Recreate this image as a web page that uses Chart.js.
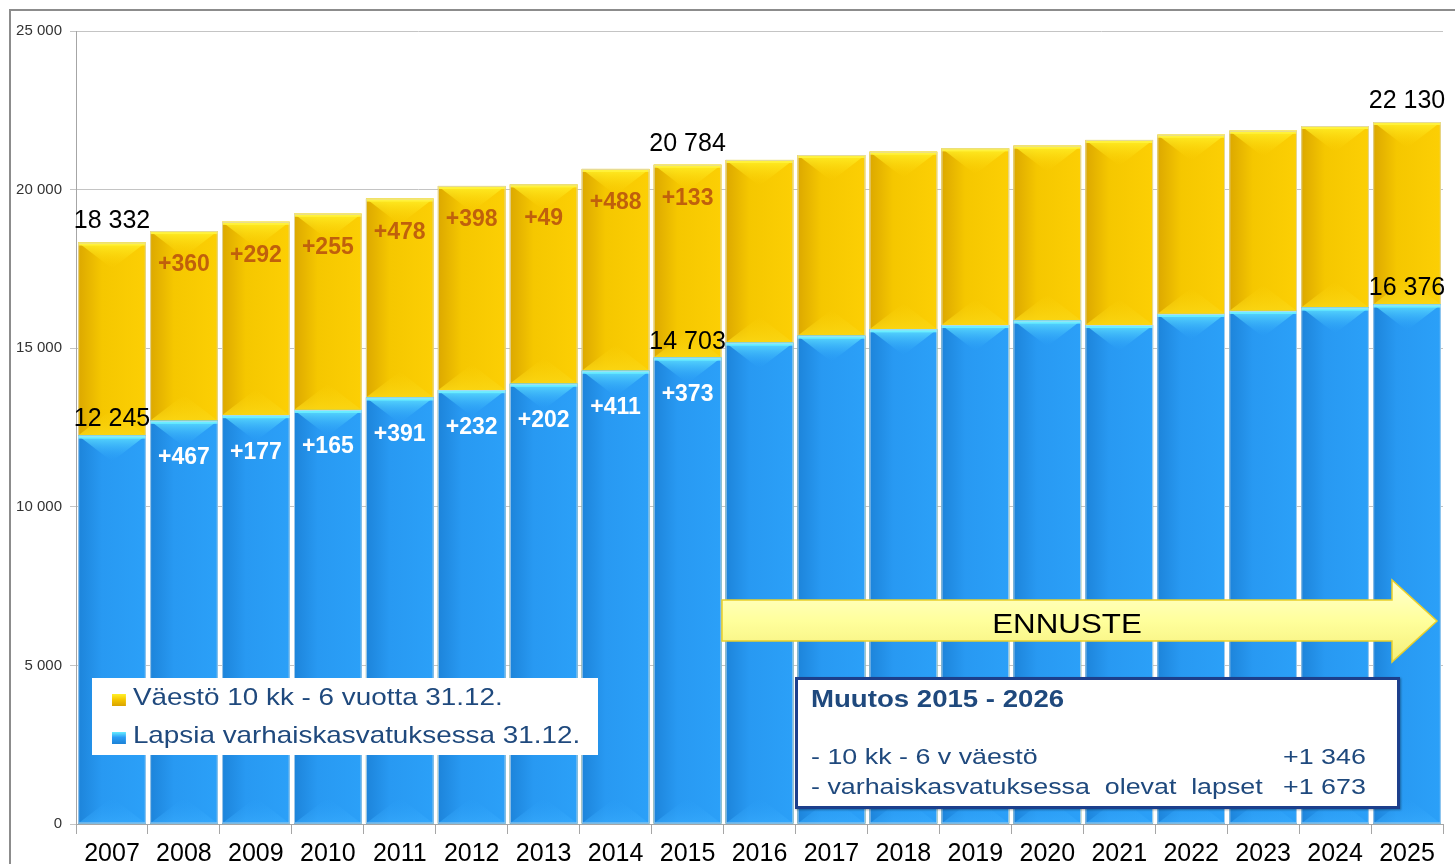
<!DOCTYPE html>
<html>
<head>
<meta charset="utf-8">
<script src="https://cdn.jsdelivr.net/npm/chart.js@4.4.1/dist/chart.umd.min.js"></script>
<style>
    html, body { margin: 0; padding: 0; background: #fff; }
    #wrap { position: relative; width: 1455px; height: 864px; overflow: hidden; font-family: "Liberation Sans", Arial, sans-serif; }
    #frame { position: absolute; left: 9px; top: 9px; width: 1500px; height: 900px; border-left: 2px solid #8c8c8c; border-top: 2px solid #8c8c8c; }
    #chart { position: absolute; left: 0; top: 0; }
    #legend { position: absolute; left: 92px; top: 678px; width: 506px; height: 77px; background: #fff; }
    .leg-item { position: absolute; left: 20px; height: 30px; line-height: 30px; font-size: 24px; color: #1F497D; white-space: nowrap; transform: scaleX(1.16); transform-origin: left center; }
    .leg-icon { display: inline-block; width: 12px; height: 12px; margin-right: 6px; vertical-align: -1px; }
    #arrow { position: absolute; left: 0; top: 0; }
    #muutos { position: absolute; left: 795px; top: 677px; width: 605px; height: 132px; box-sizing: border-box; border: 3px solid #1C3F8C; background: #fff; box-shadow: 1px 1px 2px rgba(0,0,0,0.35); color: #1F497D; }
    #muutos div { position: absolute; white-space: nowrap; line-height: 26px; }
    .m-title { left: 13px; top: 6px; font-size: 23px; font-weight: bold; transform: scaleX(1.2); transform-origin: left center; }
    .m-row { font-size: 22px; transform: scaleX(1.22); transform-origin: left center; }
    .m-num { font-size: 22px; transform: scaleX(1.22); transform-origin: right center; }
</style>
</head>
<body>
<div id="wrap">
    <div id="frame"></div>
    <canvas id="chart" width="1455" height="864"></canvas>
    <svg id="arrow" width="1455" height="864">
        <defs>
            <linearGradient id="arrowFill" x1="0" y1="0" x2="0" y2="1">
                <stop offset="0" stop-color="#FFFFD0"/>
                <stop offset="0.5" stop-color="#FFFF9C"/>
                <stop offset="1" stop-color="#F4EE78"/>
            </linearGradient>
        </defs>
        <polygon points="722,600 1392,600 1392,580 1437,621 1392,662 1392,641 722,641"
                 fill="url(#arrowFill)" stroke="#E9CF2A" stroke-width="1.5"/>
        <text transform="translate(1067,633) scale(1.16,1)" text-anchor="middle"
              font-family="Liberation Sans, Arial, sans-serif" font-size="27" fill="#000">ENNUSTE</text>
    </svg>
    <div id="legend">
        <div class="leg-item" style="top: 4px;"><span class="leg-icon" style="background: linear-gradient(180deg, #FFF02A 0%, #F6C800 45%, #D9A400 100%);"></span>Väestö 10 kk - 6 vuotta 31.12.</div>
        <div class="leg-item" style="top: 42px;"><span class="leg-icon" style="background: linear-gradient(180deg, #66ECFF 0%, #2A9DF5 45%, #1C82D6 100%);"></span>Lapsia varhaiskasvatuksessa 31.12.</div>
    </div>
    <div id="muutos">
        <div class="m-title">Muutos 2015 - 2026</div>
        <div class="m-row" style="left: 13px; top: 64px;">- 10 kk - 6 v väestö</div>
        <div class="m-num" style="right: 31px; top: 64px;">+1 346</div>
        <div class="m-row" style="left: 13px; top: 94px;">- varhaiskasvatuksessa<span style="word-spacing: 6px;"> olevat lapset</span></div>
        <div class="m-num" style="right: 31px; top: 94px;">+1 673</div>
    </div>
</div>
<script>
const years = ['2007', '2008', '2009', '2010', '2011', '2012', '2013', '2014', '2015', '2016',
               '2017', '2018', '2019', '2020', '2021', '2022', '2023', '2024', '2025'];

// Väestö 10 kk - 6 vuotta 31.12.
const population = [18332, 18692, 18984, 19239, 19717, 20115, 20164, 20652, 20784, 20935,
                    21090, 21195, 21300, 21385, 21565, 21730, 21855, 22005, 22130];

// Lapsia varhaiskasvatuksessa 31.12.
const earlyEducation = [12245, 12712, 12889, 13054, 13445, 13677, 13879, 14290, 14703, 15175,
                        15395, 15595, 15730, 15870, 15730, 16080, 16175, 16280, 16376];

// yearly changes printed inside the bars
const populationChange = [null, 360, 292, 255, 478, 398, 49, 488, 133, null,
                          null, null, null, null, null, null, null, null, null];
const educationChange = [null, 467, 177, 165, 391, 232, 202, 411, 373, null,
                         null, null, null, null, null, null, null, null, null];

// years that get the value itself above the bar
const valueLabelYears = ['2007', '2015', '2025'];

const yMax = 25000;
const yStep = 5000;

function fmt(n) {
    return String(n).replace(/\B(?=(\d{3})+(?!\d))/g, ' ');
}

// 3D-ish bevel look for the bars (drawn over the library's own bar elements)
const barLook = {
    id: 'barLook',
    afterDatasetDraw(chart, args) {
        const ctx = chart.ctx;
        const isBlue = args.index === 0;
        const blueMeta = chart.getDatasetMeta(0);
        ctx.save();
        args.meta.data.forEach((bar, i) => {
            const w = bar.width;
            const left = bar.x - w / 2;
            const top = bar.y;
            const bottom = bar.base;
            const h = bottom - top;
            const side = ctx.createLinearGradient(left, 0, left + w, 0);
            if (isBlue) {
                side.addColorStop(0, '#1D84DA');
                side.addColorStop(0.35, '#2899F2');
                side.addColorStop(1, '#2BA0F8');
            } else {
                side.addColorStop(0, '#DCA800');
                side.addColorStop(0.35, '#F5C700');
                side.addColorStop(1, '#FCCF04');
            }
            ctx.fillStyle = side;
            ctx.fillRect(left, top, w, h);

            const d = Math.min(26, h / 2);
            // top bevel
            const tg = ctx.createLinearGradient(0, top, 0, top + d);
            if (isBlue) {
                tg.addColorStop(0, 'rgba(95,225,255,0.95)');
                tg.addColorStop(1, 'rgba(43,160,248,0)');
            } else {
                tg.addColorStop(0, 'rgba(255,240,40,0.95)');
                tg.addColorStop(1, 'rgba(252,207,4,0)');
            }
            ctx.fillStyle = tg;
            ctx.beginPath();
            ctx.moveTo(left, top);
            ctx.lineTo(left + w, top);
            ctx.lineTo(bar.x, top + d);
            ctx.closePath();
            ctx.fill();
            ctx.fillStyle = isBlue ? '#6AEEFF' : '#FFF23C';
            ctx.fillRect(left, top, w, 3);

            // bottom bevel: for yellow it sits on the blue bar's top
            const by = isBlue ? bottom : blueMeta.data[i].y;
            const bg = ctx.createLinearGradient(0, by, 0, by - d);
            if (isBlue) {
                bg.addColorStop(0, 'rgba(60,175,255,0.55)');
                bg.addColorStop(1, 'rgba(43,160,248,0)');
            } else {
                bg.addColorStop(0, 'rgba(250,214,20,0.9)');
                bg.addColorStop(1, 'rgba(250,210,10,0)');
            }
            ctx.fillStyle = bg;
            ctx.beginPath();
            ctx.moveTo(left, by);
            ctx.lineTo(left + w, by);
            ctx.lineTo(bar.x, by - d);
            ctx.closePath();
            ctx.fill();

            ctx.strokeStyle = isBlue ? 'rgba(190,215,235,0.8)' : 'rgba(225,215,170,0.9)';
            ctx.lineWidth = 1;
            ctx.strokeRect(left + 0.5, top + 0.5, w - 1, h - 1);
        });
        ctx.restore();
    }
};

const barLabels = {
    id: 'barLabels',
    afterDatasetsDraw(chart) {
        const ctx = chart.ctx;
        const blue = chart.getDatasetMeta(0).data;
        const yellow = chart.getDatasetMeta(1).data;
        ctx.save();
        ctx.textAlign = 'center';
        ctx.textBaseline = 'middle';
        years.forEach((year, i) => {
            if (populationChange[i] !== null) {
                ctx.font = 'bold 23px "Liberation Sans", Arial, sans-serif';
                ctx.fillStyle = '#C0600C';
                ctx.fillText('+' + populationChange[i], yellow[i].x, yellow[i].y + 34);
            }
            if (educationChange[i] !== null) {
                ctx.font = 'bold 23px "Liberation Sans", Arial, sans-serif';
                ctx.fillStyle = '#FFFFFF';
                ctx.fillText('+' + educationChange[i], blue[i].x, blue[i].y + 37);
            }
            if (valueLabelYears.includes(year)) {
                ctx.font = '25px "Liberation Sans", Arial, sans-serif';
                ctx.fillStyle = '#000';
                ctx.fillText(fmt(population[i]), yellow[i].x, yellow[i].y - 21);
                ctx.fillText(fmt(earlyEducation[i]), blue[i].x, blue[i].y - 16);
            }
        });
        ctx.restore();
    }
};

const ctx = document.getElementById('chart').getContext('2d');
new Chart(ctx, {
    type: 'bar',
    data: {
        labels: years,
        datasets: [
            {
                label: 'Lapsia varhaiskasvatuksessa 31.12.',
                data: earlyEducation,
                backgroundColor: '#2A9DF5',
                grouped: false,
                order: 0,
                barPercentage: 0.94,
                categoryPercentage: 1.0
            },
            {
                label: 'Väestö 10 kk - 6 vuotta 31.12.',
                data: population,
                backgroundColor: '#FCCC04',
                grouped: false,
                order: 1,
                barPercentage: 0.94,
                categoryPercentage: 1.0
            }
        ]
    },
    options: {
        responsive: false,
        animation: false,
        layout: { padding: { left: 0, top: 31, right: 12, bottom: 0 } },
        plugins: {
            legend: { display: false },
            tooltip: { enabled: false }
        },
        scales: {
            x: {
                grid: { display: true, drawOnChartArea: false, drawTicks: true, tickLength: 10, color: '#A6A6A6' },
                border: { color: '#A6A6A6' },
                ticks: { color: '#000', font: { size: 25, family: '"Liberation Sans", Arial, sans-serif' }, padding: 5, maxRotation: 0, autoSkip: false },
                afterFit(scale) { scale.height = 40; }
            },
            y: {
                min: 0,
                max: yMax,
                grid: { color: '#C4C4C4', tickLength: 6 },
                border: { color: '#A6A6A6' },
                ticks: {
                    stepSize: yStep,
                    color: '#333',
                    padding: 8,
                    font: { size: 15, family: '"Liberation Sans", Arial, sans-serif' },
                    callback: v => fmt(v)
                },
                afterFit(scale) { scale.width = 76; }
            }
        }
    },
    plugins: [barLook, barLabels]
});
</script>
</body>
</html>
